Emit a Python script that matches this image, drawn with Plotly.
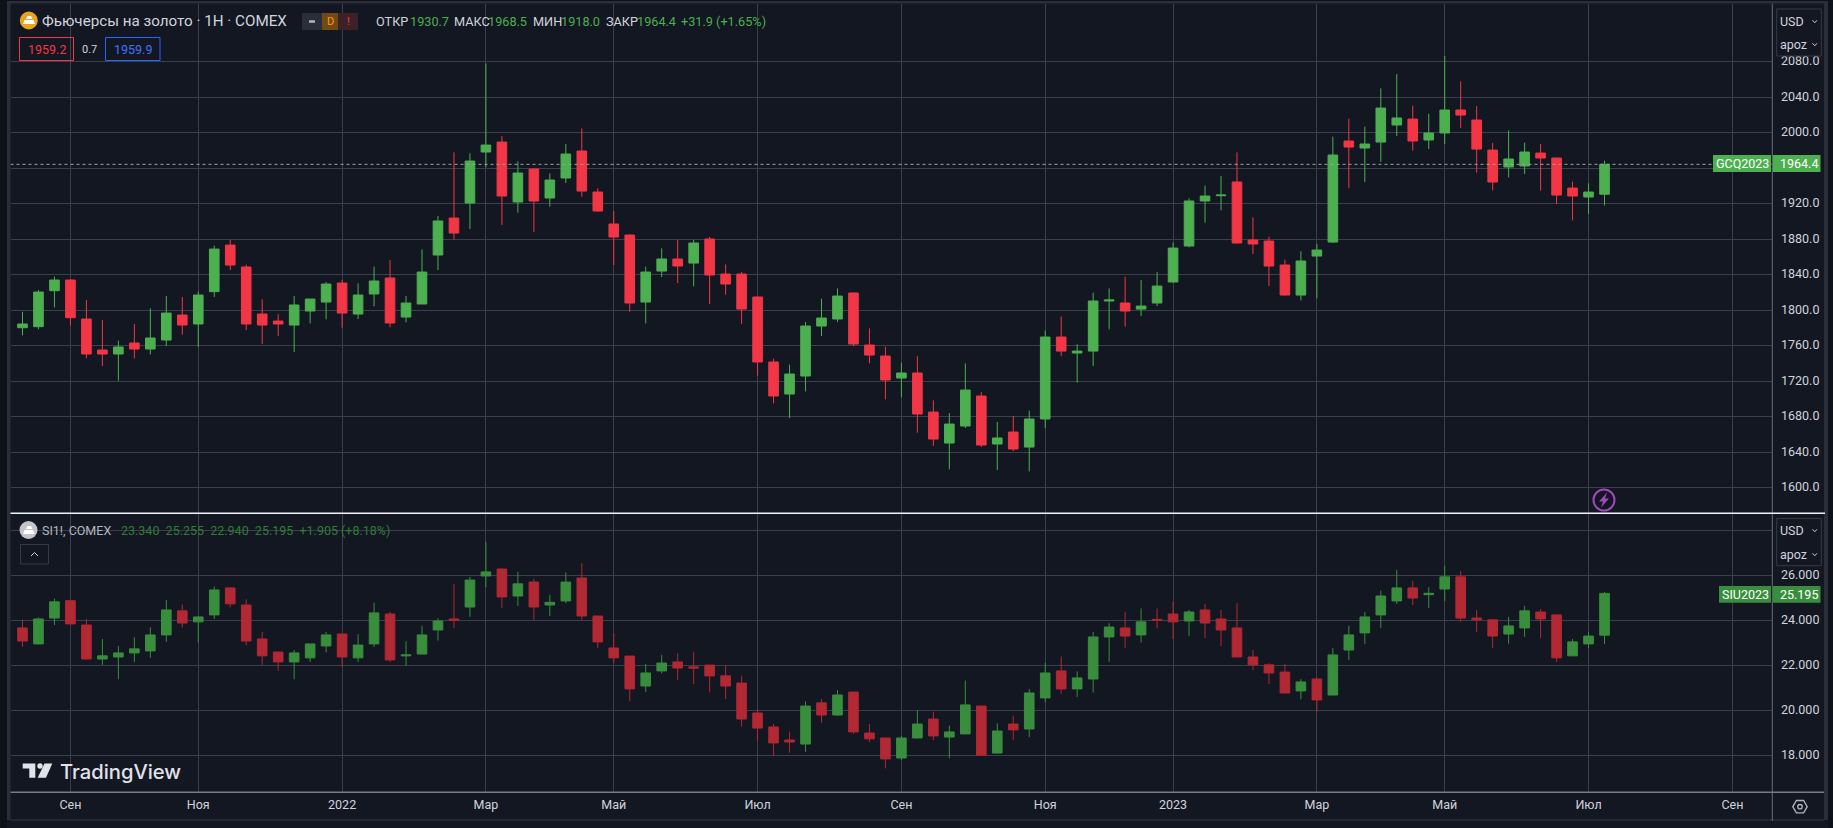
import plotly.graph_objects as go

W, H = 1833, 828

# ---------- data ----------
tick_index = [3, 11, 20, 29, 37, 46, 55, 64, 72, 81, 89, 98, 107]
tick_labels = ["Сен", "Ноя", "2022", "Мар", "Май", "Июл", "Сен", "Ноя", "2023", "Мар", "Май", "Июл", "Сен"]
gold_ticks = [1600, 1640, 1680, 1720, 1760, 1800, 1840, 1880, 1920, 1960, 2000, 2040, 2080]
gold_tick_text = ["1600.0", "1640.0", "1680.0", "1720.0", "1760.0", "1800.0", "1840.0", "1880.0", "1920.0", "", "2000.0", "2040.0", "2080.0"]
silver_ticks = [18, 20, 22, 24, 26, 28]
silver_tick_text = ["18.000", "20.000", "22.000", "24.000", "26.000", ""]
bar_index = list(range(100))

gold_open = [1780.4,1781.6,1822.1,1834.1,1790.2,1755.3,1750.8,1763.2,1756.4,1766.5,
             1794.7,1784.6,1821.0,1873.5,1848.8,1795.8,1787.9,1783.4,1799.2,1809.3,
             1830.7,1795.8,1818.4,1836.4,1792.4,1807.1,1862.3,1903.9,1920.8,1978.3,
             1989.5,1922.0,1959.1,1926.5,1949.0,1979.4,1933.2,1897.2,1884.8,1809.3,
             1844.2,1857.8,1853.2,1880.3,1840.9,1840.9,1815.0,1741.8,1705.7,1726.0,
             1782.3,1790.2,1819.5,1760.9,1748.5,1723.7,1729.4,1685.4,1650.5,1669.7,
             1703.5,1649.4,1662.9,1646.0,1677.6,1769.9,1751.9,1754.1,1810.5,1808.2,
             1801.4,1808.2,1831.9,1872.4,1923.1,1929.1,1944.5,1879.2,1878.0,1851.0,
             1817.2,1861.1,1876.9,1990.7,1982.8,1989.5,2008.7,2015.4,1991.8,1999.7,
             2025.6,2014.3,1980.5,1961.4,1962.5,1977.1,1971.5,1937.7,1927.6,1930.7]
gold_high = [1798.4,1822.8,1837.9,1835.0,1811.6,1789.1,1765.8,1784.6,1802.2,1816.1,
             1815.0,1821.0,1872.8,1879.2,1851.4,1812.3,1795.8,1816.1,1812.7,1831.9,
             1834.1,1830.4,1849.1,1856.6,1816.1,1868.6,1906.2,1977.9,1976.8,2078.0,
             1996.3,1967.8,1960.0,1954.2,1987.3,2004.9,1937.3,1911.8,1885.5,1849.1,
             1869.8,1879.2,1879.2,1882.9,1851.7,1843.1,1815.5,1745.5,1738.8,1786.8,
             1813.1,1824.7,1820.0,1779.7,1759.0,1741.0,1748.5,1698.6,1684.3,1740.3,
             1708.0,1674.2,1680.9,1686.9,1777.0,1793.2,1761.7,1819.8,1824.7,1837.9,
             1834.1,1843.1,1876.2,1926.1,1940.4,1951.2,1977.9,1904.7,1882.9,1857.0,
             1866.4,1874.7,1995.5,2015.8,2006.8,2050.0,2066.1,2030.4,2021.4,2086.4,
             2057.9,2030.0,1988.4,2002.7,1988.8,1987.3,1972.0,1944.9,1943.0,1968.5]
gold_low = [1771.8,1778.6,1803.3,1782.7,1745.9,1737.3,1720.7,1745.9,1750.4,1759.8,
            1772.5,1758.7,1815.0,1845.4,1777.8,1762.0,1771.0,1753.0,1785.3,1789.8,
            1780.4,1790.2,1804.5,1780.8,1786.4,1807.1,1845.4,1879.9,1891.5,1961.0,
            1896.1,1909.9,1888.2,1916.7,1943.4,1928.0,1911.0,1851.0,1798.4,1785.3,
            1837.5,1830.7,1827.0,1807.1,1817.6,1784.5,1726.4,1695.2,1678.7,1708.7,
            1771.0,1786.8,1759.8,1740.3,1699.7,1702.0,1662.2,1647.2,1620.9,1667.4,
            1646.0,1620.1,1641.5,1618.6,1667.4,1748.5,1718.5,1737.2,1778.5,1781.5,
            1793.6,1804.8,1831.0,1870.9,1898.7,1912.6,1875.0,1863.4,1827.4,1816.5,
            1811.2,1813.5,1876.0,1937.7,1944.5,1967.0,1996.3,1979.8,1981.6,1987.3,
            2005.3,1955.0,1935.1,1949.7,1953.5,1934.7,1919.7,1901.3,1908.4,1918.0]
gold_close = [1784.6,1820.6,1834.1,1791.7,1750.8,1750.8,1758.7,1756.4,1768.8,1796.9,
              1783.4,1817.2,1869.0,1851.0,1784.6,1783.4,1784.6,1806.0,1812.7,1829.6,
              1796.9,1817.2,1833.0,1785.7,1808.2,1843.1,1900.6,1887.0,1968.1,1986.1,
              1928.7,1954.6,1923.1,1946.7,1976.0,1934.3,1911.8,1882.5,1808.2,1843.1,
              1857.8,1849.9,1875.8,1839.7,1829.6,1801.4,1741.8,1703.5,1728.2,1782.3,
              1791.3,1816.1,1762.0,1749.6,1721.5,1729.4,1683.2,1655.0,1671.9,1710.2,
              1648.3,1656.2,1643.8,1677.6,1769.9,1754.1,1754.1,1810.5,1811.6,1799.2,
              1804.8,1827.3,1870.1,1923.1,1928.7,1929.8,1875.8,1874.7,1849.9,1817.2,
              1855.5,1867.9,1974.9,1983.9,1987.3,2027.8,2016.6,1990.7,1999.7,2025.6,
              2019.9,1981.6,1944.5,1970.4,1978.3,1971.5,1929.8,1928.7,1933.2,1964.4]

silver_open = [23.66,22.95,24.10,24.87,23.79,22.28,22.37,22.55,22.64,23.35,
               24.42,23.93,24.24,25.44,24.68,23.17,22.59,22.15,22.33,22.86,
               23.39,22.33,22.95,24.28,22.42,22.50,23.57,24.06,24.59,25.97,
               26.28,25.08,25.70,24.68,24.86,25.88,24.19,22.77,22.41,21.08,
               21.75,22.15,21.93,22.01,21.53,21.21,19.88,19.26,18.68,18.50,
               20.33,19.79,20.81,18.99,18.77,17.88,18.77,19.61,18.81,18.95,
               20.19,18.10,19.39,19.17,20.55,21.75,20.95,21.39,23.26,23.66,
               23.35,24.04,24.28,23.97,24.46,24.06,23.66,22.37,22.02,21.70,
               20.86,21.39,20.68,22.68,23.44,24.24,24.86,25.44,25.14,25.39,
               25.93,24.10,24.02,23.39,23.66,24.37,24.24,22.42,22.95,23.34]
silver_high = [24.02,24.13,24.96,24.88,24.05,23.17,22.86,23.24,23.69,24.90,
               24.71,24.15,25.50,25.45,24.93,23.48,22.60,22.68,22.95,23.48,
               23.39,23.38,24.79,24.37,23.07,23.76,24.09,25.62,25.93,27.48,
               26.30,26.15,25.84,25.13,26.13,26.53,24.20,23.42,22.41,22.06,
               22.46,22.53,22.58,22.01,22.01,21.53,20.06,19.39,19.04,20.40,
               20.50,20.90,20.82,19.39,18.78,18.86,20.01,19.94,19.32,21.32,
               20.20,19.42,19.76,20.95,22.12,22.39,21.73,23.48,23.87,24.38,
               24.53,24.53,24.83,24.46,24.73,24.46,24.76,22.68,22.09,22.06,
               21.39,21.45,22.77,23.75,24.37,25.32,26.24,25.76,25.47,26.42,
               26.19,24.46,24.06,24.15,24.64,24.50,24.25,23.17,23.48,25.255]
silver_low = [22.82,22.93,23.79,23.82,22.26,22.02,21.38,22.15,22.33,23.04,
              23.67,23.02,24.06,24.58,22.90,22.02,21.76,21.38,22.15,22.58,
              21.93,22.15,22.82,22.15,21.97,22.49,23.10,23.66,24.15,25.47,
              24.55,24.64,24.02,24.19,24.76,24.02,22.77,22.09,20.40,20.81,
              21.64,21.35,21.17,20.80,20.50,19.27,18.64,17.97,18.12,18.15,
              19.45,19.75,18.95,18.58,17.42,17.79,18.76,18.68,17.87,18.94,
              17.99,18.09,18.67,18.81,20.36,20.73,20.59,20.79,22.16,22.76,
              23.01,23.64,23.17,23.30,23.21,22.86,22.36,21.79,21.17,20.76,
              20.49,19.94,20.66,22.24,22.95,23.66,24.73,24.68,24.55,24.86,
              23.93,23.48,22.77,22.96,23.27,23.20,22.15,22.41,22.76,22.94]
silver_close = [23.08,24.06,24.82,23.84,22.28,22.42,22.55,22.73,23.35,24.46,
                23.88,24.15,25.35,24.73,23.08,22.42,22.15,22.55,22.95,23.35,
                22.37,22.90,24.33,22.24,22.46,23.35,23.97,23.99,25.79,26.15,
                25.04,25.62,24.59,24.80,25.70,24.19,23.04,22.33,20.95,21.66,
                22.10,21.88,21.88,21.53,21.08,19.61,19.21,18.55,18.59,20.19,
                19.79,20.68,19.04,18.73,17.84,18.77,19.39,18.86,19.04,20.24,
                18.00,19.08,19.13,20.77,21.66,20.95,21.44,23.26,23.70,23.30,
                23.93,24.00,23.93,24.37,23.88,23.57,22.37,22.02,21.66,20.77,
                21.26,20.46,22.46,23.35,24.15,25.08,25.44,24.99,25.20,25.93,
                24.10,24.02,23.30,23.75,24.42,24.06,22.33,23.04,23.30,25.195]

gold_last = 1964.4
silver_last = 25.195

# ---------- colours ----------
BG = "#131722"
GRID = "#3b3f4c"
EDGE = "#2a2e39"
TXT = "#d1d4dc"
G1, R1 = "#4caf50", "#f23645"
G2, R2 = "#388e3c", "#b22833"
FONT = "Roboto"

# ---------- geometry ----------
PL, PR = 10.5, 1772.0
BAR0, BAR_STEP = 22.5, 15.98
def px(x): return x / W
def py(y): return 1 - y / H

fig = go.Figure()
def candles(op, hi, lo, cl, g, r, xa, ya):
    fig.add_trace(go.Candlestick(
        x=bar_index, open=op, high=hi, low=lo, close=cl, xaxis=xa, yaxis=ya,
        increasing=dict(line=dict(color=g, width=1), fillcolor=g),
        decreasing=dict(line=dict(color=r, width=1), fillcolor=r),
        whiskerwidth=0, hoverinfo="skip", showlegend=False))
candles(gold_open, gold_high, gold_low, gold_close, G1, R1, "x", "y")
candles(silver_open, silver_high, silver_low, silver_close, G2, R2, "x2", "y2")

x_range = [(PL - BAR0) / BAR_STEP, (PR - BAR0) / BAR_STEP]
tick_font = dict(family=FONT, size=12.5, color=TXT)

fig.update_layout(
    width=W, height=H, margin=dict(l=0, r=0, t=0, b=0),
    paper_bgcolor=BG, plot_bgcolor="rgba(0,0,0,0)", boxgap=0.14, showlegend=False,
    hovermode=False, dragmode=False,
    xaxis=dict(domain=[px(PL), px(PR)], range=x_range, anchor="y", rangeslider=dict(visible=False),
               tickmode="array", tickvals=tick_index, showticklabels=False, ticks="",
               showgrid=True, gridcolor=GRID, gridwidth=1, zeroline=False, showline=False),
    yaxis=dict(domain=[py(513.0), py(4.0)], range=[2080 - (513.0 - 61.7) / 0.8879, 2080 + (61.7 - 4.0) / 0.8879],
               anchor="x", side="right", tickmode="array", tickvals=gold_ticks,
               ticktext=gold_tick_text, tickfont=tick_font, ticks="", ticklabelstandoff=8, ticklabelshift=-1,
               showgrid=True, gridcolor=GRID, gridwidth=1, zeroline=False, showline=False),
    xaxis2=dict(domain=[px(PL), px(PR)], range=x_range, anchor="y2", rangeslider=dict(visible=False),
                tickmode="array", tickvals=tick_index, ticktext=tick_labels, tickfont=tick_font, ticks="",
                ticklabelstandoff=3, showgrid=True, gridcolor=GRID, gridwidth=1, zeroline=False, showline=False),
    yaxis2=dict(domain=[py(792.3), py(514.0)], range=[26 - (792.3 - 575.3) / 22.5, 26 + (575.3 - 514.0) / 22.5],
                anchor="x2", side="right", tickmode="array", tickvals=silver_ticks,
                ticktext=silver_tick_text, tickfont=tick_font, ticks="", ticklabelstandoff=8, ticklabelshift=-1,
                showgrid=True, gridcolor=GRID, gridwidth=1, zeroline=False, showline=False),
)

shapes, notes = [], []
def rect(x0, y0, x1, y1, fill=None, line=None, lw=1, layer="above"):
    shapes.append(dict(type="rect", xref="paper", yref="paper", x0=px(x0), x1=px(x1), y0=py(y0), y1=py(y1),
                       fillcolor=fill or "rgba(0,0,0,0)", line=dict(color=line or "rgba(0,0,0,0)", width=lw if line else 0), layer=layer))
def hline(x0, x1, y, c, lw=1, dash=None, layer="above"):
    shapes.append(dict(type="line", xref="paper", yref="paper", x0=px(x0), x1=px(x1), y0=py(y), y1=py(y),
                       line=dict(color=c, width=lw, dash=dash or "solid"), layer=layer))
def vline(x, y0, y1, c, lw=1, layer="above"):
    shapes.append(dict(type="line", xref="paper", yref="paper", x0=px(x), x1=px(x), y0=py(y0), y1=py(y1),
                       line=dict(color=c, width=lw), layer=layer))
def circle(cx, cy, r, fill=None, line=None, lw=1):
    shapes.append(dict(type="circle", xref="paper", yref="paper", x0=px(cx - r), x1=px(cx + r), y0=py(cy + r), y1=py(cy - r),
                       fillcolor=fill or "rgba(0,0,0,0)", line=dict(color=line or "rgba(0,0,0,0)", width=lw if line else 0)))
def poly(pts, fill=None, line=None, lw=1, close=True):
    d = " ".join(("M" if i == 0 else "L") + f"{px(a):.6f},{py(b):.6f}" for i, (a, b) in enumerate(pts)) + (" Z" if close else "")
    shapes.append(dict(type="path", xref="paper", yref="paper", path=d, fillcolor=fill or "rgba(0,0,0,0)",
                       line=dict(color=line or "rgba(0,0,0,0)", width=lw if line else 0)))
def text(x, y, s, c=TXT, size=12.5, anchor="left", family=FONT, weight=None):
    notes.append(dict(xref="paper", yref="paper", x=px(x), y=py(y), text=s, showarrow=False, xanchor=anchor, yanchor="middle",
                      borderpad=0, borderwidth=0, font=dict(family=family, size=size, color=c, weight=weight or 400)))

# frame
rect(0, 0, 7, H, fill="#0f1119", layer="below")
rect(7, 0, 10.5, 820, fill=EDGE, layer="below")
rect(0, 0, W, 1, fill="#0f1119", layer="below")
rect(7, 1, 1828, 3.5, fill=EDGE, layer="below")
rect(1824, 1, 1828, 820, fill=EDGE, layer="below")
rect(1828, 0, W, H, fill="#0f1119", layer="below")
hline(10.5, 1824, 820, EDGE, 1.5)
vline(1772.3, 3.5, 821, "#6a6d78", 1)
hline(10.5, 1824, 792.3, "#787b86", 1.5)
hline(10.5, 1825, 513.3, "#f0f3fa", 1.5)

# last-price line (drawn on the price scale)
shapes.append(dict(type="line", xref="x", yref="y", x0=x_range[0], x1=x_range[1], y0=gold_last, y1=gold_last,
                   line=dict(color="#9aa89f", width=1, dash="dot"), layer="above"))

# price tags
rect(1713, 155, 1771, 172, fill=G1)
rect(1772.8, 155, 1820.5, 172, fill=G1)
text(1742, 163.2, "GCQ2023", "#ffffff", 12.5, "center")
text(1780, 163.2, f"{gold_last}", "#ffffff", 12.5)
rect(1719, 586, 1771, 602.7, fill=G2)
rect(1772.8, 586, 1820.5, 602.7, fill=G2)
text(1745, 594.5, "SIU2023", "#ffffff", 12.5, "center")
text(1780, 594.5, f"{silver_last:.3f}", "#ffffff", 12.5)

# currency / unit buttons
for top, bottom, t1, t2 in ((9, 56, 21.5, 44.5), (518.5, 565.7, 530.5, 554.5)):
    rect(1776.7, top, 1821.3, bottom, fill=BG, line="#363a45", lw=1)
    text(1780, t1, "USD", TXT, 12.5)
    text(1780, t2, "apoz", TXT, 12.5)
    for yy in (t1, t2):
        poly([(1812.5, yy - 1.2), (1814.8, yy + 1.2), (1817, yy - 1.2)], line=TXT, lw=1, close=False)

# header: gold
circle(28.8, 20.5, 9, fill="#e8a41c")
poly([(26, 19), (27.5, 16), (31, 16), (32.5, 19)], fill="#ffffff")
poly([(23, 24), (24.5, 20), (33.5, 20), (35, 24)], fill="#ffffff")
text(42, 21, "Фьючерсы на золото · 1H · COMEX", TXT, 15.2)
rect(302, 13, 322, 30, fill="#2a2e39")
rect(322, 13, 338, 30, fill="#6f4a16")
rect(338, 13, 358, 30, fill="#3d2028")
hline(309, 315, 21.5, "#b2b5be", 2.5)
text(330, 21.5, "D", "#ff9800", 11, "center")
text(348, 21.5, "!", "#f23645", 11, "center")
for x, s, c in ((376, "ОТКР", TXT), (409.7, "1930.7", G1), (453.6, "МАКС", TXT), (488, "1968.5", G1),
                (532.6, "МИН", TXT), (560.7, "1918.0", G1), (605.6, "ЗАКР", TXT), (636.7, "1964.4", G1),
                (681, "+31.9 (+1.65%)", G1)):
    text(x, 21.5, s, c, 12.7)
rect(19.5, 37.5, 73.5, 60.5, line=R1, lw=1)
text(46.5, 49, "1959.2", R1, 12.5, "center")
text(89, 49, "0.7", TXT, 11, "center")
rect(105.5, 37.5, 160, 60.5, line="#2962ff", lw=1)
text(132.7, 49, "1959.9", "#3f74ff", 12.5, "center")

# header: silver
circle(28.5, 530, 9, fill="#c3c5cb")
poly([(26, 529), (27.5, 526), (31, 526), (32.5, 529)], fill="#ffffff")
poly([(23, 534), (24.5, 530), (33, 530), (34.5, 534)], fill="#ffffff")
text(41.5, 530.5, "SI1!, COMEX", "#b2b5be", 12.5)
text(120.6, 530.5, "23.340  25.255  22.940  25.195  +1.905 (+8.18%)", "#2f7d35", 12.5)
rect(20.5, 544.5, 48.5, 564, line="#363a45", lw=1)
poly([(31, 556), (34.5, 552.5), (38, 556)], line=TXT, lw=1, close=False)

# bolt
circle(1604, 500, 10.5, line="#a347bc", lw=2)
poly([(1607, 492.5), (1599, 501.5), (1603, 501.5), (1601, 507.5), (1609, 498.5), (1605, 498.5)], fill="#a347bc")

# TradingView mark
LOGO = "#e1e3ea"
poly([(22.7, 763.5), (35.3, 763.5), (35.3, 777.7), (29.3, 777.7), (29.3, 768.5), (22.7, 768.5)], fill=LOGO)
circle(40, 766, 2.7, fill=LOGO)
poly([(44.5, 763.5), (52.3, 763.5), (46, 777.7), (37.7, 777.7)], fill=LOGO)
text(60, 771.5, "TradingView", LOGO, 20.2, family="Inter", weight=500)

# settings hexagon
poly([(1792.8, 806.7), (1796.4, 800.5), (1803.6, 800.5), (1807.2, 806.7), (1803.6, 812.9), (1796.4, 812.9)], line="#b2b5be", lw=1.3)
circle(1800, 806.7, 2.2, line="#b2b5be", lw=1.3)

fig.update_layout(shapes=shapes, annotations=notes)
fig.write_html("out.html", config=dict(displayModeBar=False),
               post_script="document.body.style.margin='0';document.body.style.overflow='hidden';")
